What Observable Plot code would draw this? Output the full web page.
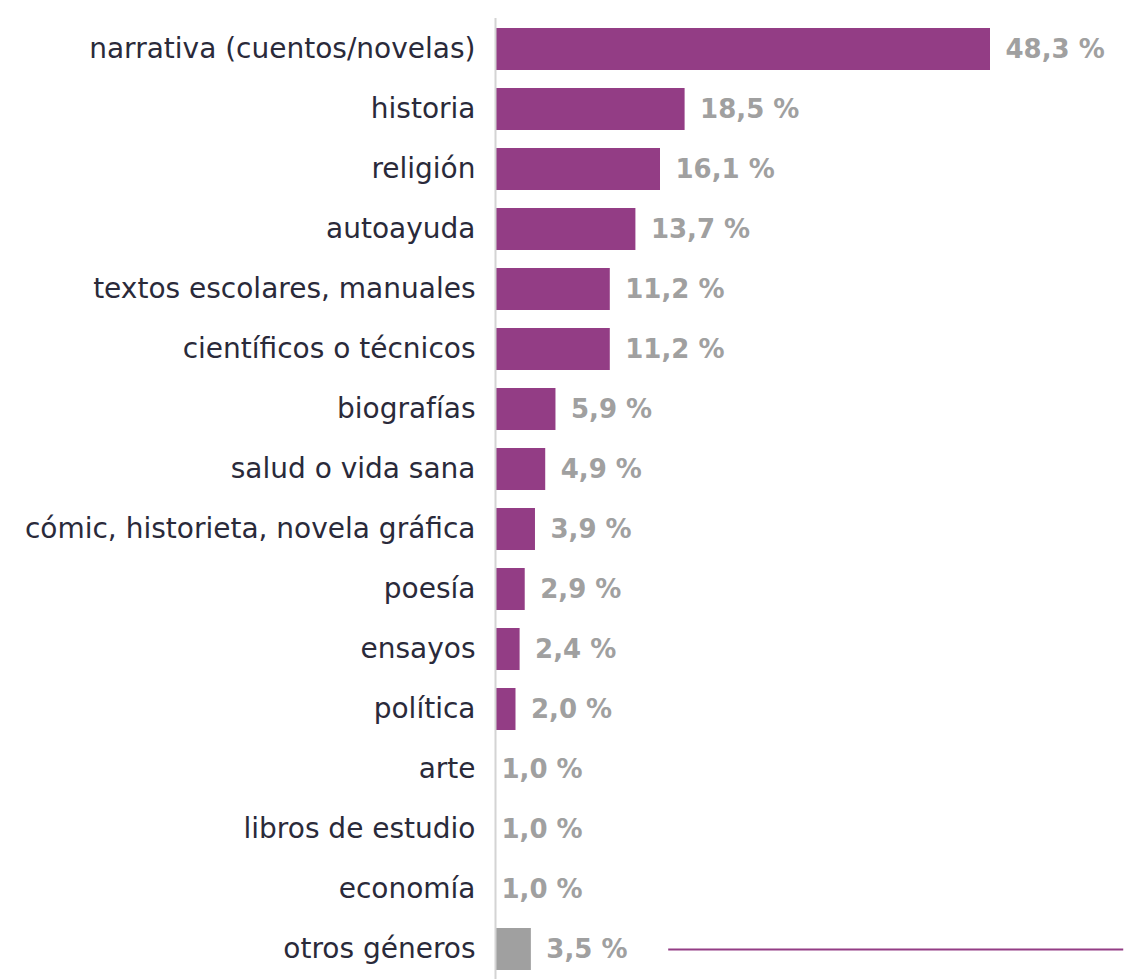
<!DOCTYPE html>
<html>
<head>
<meta charset="utf-8">
<script src="https://cdn.jsdelivr.net/npm/d3@7"></script>
<script src="https://cdn.jsdelivr.net/npm/@observablehq/plot@0.6"></script>
<style>
  html, body { margin: 0; padding: 0; background: #fff; }
  #chart svg { display: block; }
</style>
</head>
<body>
<div id="chart"></div>
<script>
const categories = [
  "narrativa (cuentos/novelas)",
  "historia",
  "religión",
  "autoayuda",
  "textos escolares, manuales",
  "científicos o técnicos",
  "biografías",
  "salud o vida sana",
  "cómic, historieta, novela gráfica",
  "poesía",
  "ensayos",
  "política",
  "arte",
  "libros de estudio",
  "economía",
  "otros géneros"
];
const values = [48.3, 18.5, 16.1, 13.7, 11.2, 11.2, 5.9, 4.9, 3.9, 2.9, 2.4, 2.0, 1.0, 1.0, 1.0, 3.5];
const showBar = [true, true, true, true, true, true, true, true, true, true, true, true, false, false, false, true];
const isOther = [false, false, false, false, false, false, false, false, false, false, false, false, false, false, false, true];
const separatorSpan = [16.9, 61.3]; // decorative line, in % units

const data = categories.map((c, i) => ({
  cat: c,
  value: values[i],
  bar: showBar[i],
  other: isOther[i],
  label: values[i].toFixed(1).replace(".", ",") + " %"
}));

const purple = "#933d85";
const gray = "#a0a0a0";

const chart = Plot.plot({
  width: 1124,
  height: 979,
  marginLeft: 495,
  marginRight: 134,
  marginTop: 18,
  marginBottom: 0,
  style: { fontFamily: "'DejaVu Sans', sans-serif", background: "#fff" },
  x: { domain: [0, 48.3], axis: null },
  y: { domain: categories, paddingInner: 0.3, paddingOuter: 0.15, label: null },
  marks: [
    Plot.barX(data.filter(d => d.bar), {
      y: "cat", x: "value",
      fill: d => d.other ? gray : purple
    }),
    Plot.ruleX([0], { stroke: "#d4d4d4", strokeWidth: 2 }),
    Plot.text(data.filter(d => d.bar), {
      y: "cat",
      x: "value",
      text: "label",
      textAnchor: "start",
      dx: 15,
      fill: gray,
      fontWeight: "bold",
      fontSize: 26
    }),
    Plot.text(data.filter(d => !d.bar), {
      y: "cat",
      x: 0,
      text: "label",
      textAnchor: "start",
      dx: 6,
      fill: gray,
      fontWeight: "bold",
      fontSize: 26
    }),
    Plot.ruleY([categories[categories.length - 1]], {
      x1: separatorSpan[0], x2: separatorSpan[1],
      stroke: purple, strokeWidth: 2, clip: false
    }),
    Plot.axisY({
      tickSize: 0,
      tickPadding: 20,
      fontSize: 28,
      fill: "#2a2a3a",
      label: null
    })
  ]
});
chart.style.overflow = "visible";
document.getElementById("chart").appendChild(chart);
</script>
</body>
</html>
